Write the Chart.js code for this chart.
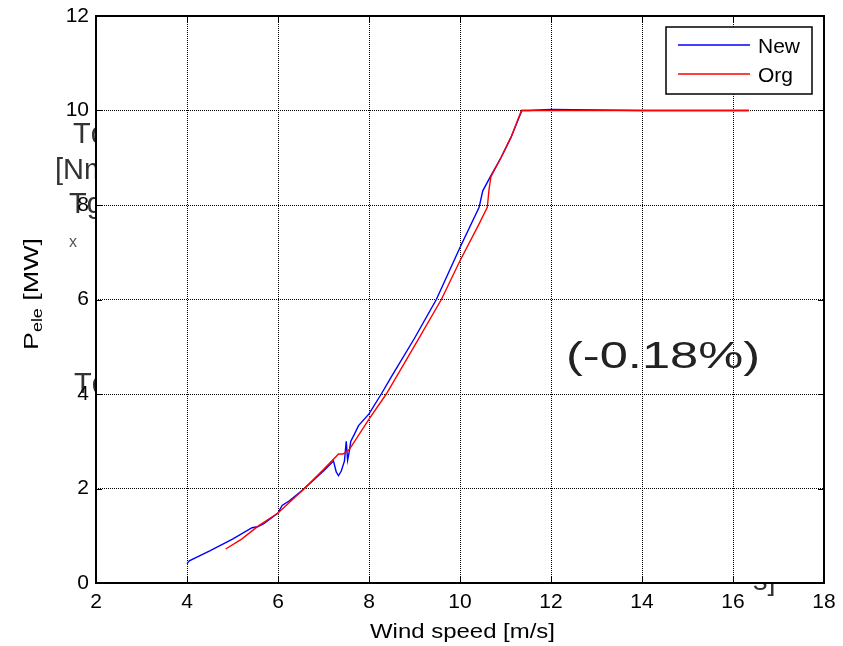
<!DOCTYPE html>
<html><head><meta charset="utf-8">
<script src="https://cdn.jsdelivr.net/npm/chart.js@4.4.0/dist/chart.umd.min.js"></script>
<style>html,body{margin:0;padding:0;background:#fff;overflow:hidden}</style>
</head><body>
<canvas id="c" width="843" height="646"></canvas>
<script>
// ---- data ----
const newSpeed = [4.0, 4.05, 4.5, 5.0, 5.43, 5.55, 5.68, 6.0, 6.09, 6.25, 6.52, 7.0, 7.22, 7.28, 7.33, 7.39, 7.46, 7.5, 7.53, 7.56, 7.6, 7.68, 7.77, 8.0, 8.27, 8.5, 9.0, 9.48, 10.0, 10.42, 10.5, 10.68, 10.9, 11.12, 11.36, 11.5, 12.0, 14.0, 16.35];
const newPower = [0.41, 0.47, 0.68, 0.93, 1.17, 1.19, 1.25, 1.48, 1.64, 1.74, 1.95, 2.37, 2.58, 2.35, 2.27, 2.37, 2.58, 3.0, 2.6, 2.75, 3.0, 3.15, 3.33, 3.58, 4.0, 4.38, 5.18, 6.0, 7.1, 7.95, 8.3, 8.62, 9.0, 9.43, 10.0, 10.0, 10.02, 10.0, 10.0];
const orgSpeed = [4.85, 5.2, 5.57, 6.0, 6.58, 7.0, 7.33, 7.43, 7.57, 8.0, 8.38, 9.0, 9.59, 10.0, 10.42, 10.6, 10.64, 10.68, 10.9, 11.12, 11.35, 12.0, 14.0, 16.35];
const orgPower = [0.72, 0.93, 1.21, 1.48, 2.0, 2.4, 2.73, 2.73, 2.83, 3.47, 4.0, 5.02, 6.0, 6.82, 7.6, 7.95, 8.35, 8.6, 9.0, 9.43, 10.0, 10.0, 10.0, 10.0];
const seriesNames = ['New', 'Org'];
const seriesColors = ['#0000ff', '#ff0000'];
const xTickValues = [2, 4, 6, 8, 10, 12, 14, 16, 18];
const yTickValues = [0, 2, 4, 6, 8, 10, 12];
const xTitle = 'Wind speed [m/s]';
const yTitleParts = ['P', 'ele', ' [MW]'];
const noteText = '(-0.18%)';
const bgTexts = ['Tq', '[Nm', 'Tg', 'x', 'Tq', 's]'];

// ---- drawing ----
const FONT = "'Liberation Sans', Arial, Helvetica, sans-serif";
function toPts(xs, ys) { return xs.map((x, i) => ({x: x, y: ys[i]})); }

function drawFit(ctx, text, x, y, size, width) {
  ctx.font = size + 'px ' + FONT;
  const w = ctx.measureText(text).width;
  const sx = width ? width / w : 1;
  ctx.save();
  ctx.translate(x, y);
  ctx.scale(sx, 1);
  ctx.textAlign = 'left';
  ctx.textBaseline = 'alphabetic';
  ctx.fillText(text, 0, 0);
  ctx.restore();
}

const deco = {
  id: 'deco',
  beforeDraw(chart) {
    const ctx = chart.ctx, a = chart.chartArea;
    ctx.save();
    ctx.fillStyle = '#fff';
    ctx.fillRect(0, 0, chart.width, chart.height);
    ctx.fillStyle = '#333';
    // background fragments (partly hidden by the plot area)
    drawFit(ctx, bgTexts[0], 73, 143, 29);
    drawFit(ctx, bgTexts[1], 55, 179, 29);
    drawFit(ctx, bgTexts[2], 69, 213, 29);
    ctx.fillStyle = '#555';
    drawFit(ctx, bgTexts[3], 69, 247, 16);
    ctx.fillStyle = '#333';
    drawFit(ctx, bgTexts[4], 74, 393, 29);
    drawFit(ctx, bgTexts[5], 753, 590, 29);
    ctx.fillStyle = '#fff';
    ctx.fillRect(a.left, a.top, a.right - a.left, a.bottom - a.top);
    ctx.restore();
  },
  afterDraw(chart) {
    const ctx = chart.ctx, a = chart.chartArea;
    const xs = chart.scales.x, ys = chart.scales.y;
    ctx.save();
    // box
    ctx.strokeStyle = '#000';
    ctx.lineWidth = 2;
    ctx.strokeRect(a.left, a.top, a.right - a.left, a.bottom - a.top);
    // inward ticks
    ctx.lineWidth = 1;
    ctx.beginPath();
    xTickValues.forEach(v => {
      const px = Math.round(xs.getPixelForValue(v)) + 0.5;
      ctx.moveTo(px, a.bottom); ctx.lineTo(px, a.bottom - 6);
      ctx.moveTo(px, a.top); ctx.lineTo(px, a.top + 6);
    });
    yTickValues.forEach(v => {
      const py = Math.round(ys.getPixelForValue(v)) + 0.5;
      ctx.moveTo(a.left, py); ctx.lineTo(a.left + 6, py);
      ctx.moveTo(a.right, py); ctx.lineTo(a.right - 6, py);
    });
    ctx.stroke();

    // legend
    const lx = 666, ly = 27, lw = 146, lh = 67;
    ctx.fillStyle = '#fff';
    ctx.fillRect(lx, ly, lw, lh);
    ctx.lineWidth = 1.5;
    ctx.strokeStyle = '#000';
    ctx.strokeRect(lx, ly, lw, lh);
    const rows = [45, 74];
    chart.data.datasets.forEach((ds, i) => {
      ctx.strokeStyle = ds.borderColor;
      ctx.lineWidth = 1.3;
      ctx.beginPath();
      ctx.moveTo(678, rows[i]); ctx.lineTo(750, rows[i]);
      ctx.stroke();
      ctx.fillStyle = '#000';
      drawFit(ctx, ds.label, 758, rows[i] + 8, 21);
    });

    // axis titles
    ctx.fillStyle = '#000';
    drawFit(ctx, xTitle, 370, 638, 21, 185);

    // y title with subscript
    ctx.save();
    ctx.translate(38, 350);
    ctx.rotate(-Math.PI / 2);
    ctx.font = '21px ' + FONT;
    const w0 = ctx.measureText(yTitleParts[0]).width;
    ctx.font = '14px ' + FONT;
    const w1 = ctx.measureText(yTitleParts[1]).width;
    ctx.font = '21px ' + FONT;
    const w2 = ctx.measureText(yTitleParts[2]).width;
    const sx = 112 / (w0 + w1 + w2);
    ctx.scale(sx, 1);
    ctx.textBaseline = 'alphabetic';
    ctx.font = '21px ' + FONT;
    ctx.fillText(yTitleParts[0], 0, 0);
    ctx.font = '14px ' + FONT;
    ctx.fillText(yTitleParts[1], w0, 4);
    ctx.font = '21px ' + FONT;
    ctx.fillText(yTitleParts[2], w0 + w1, 0);
    ctx.restore();

    // annotation
    ctx.fillStyle = '#222';
    drawFit(ctx, noteText, 566, 368, 36, 194);
    ctx.restore();
  }
};

new Chart(document.getElementById('c'), {
  type: 'scatter',
  data: {
    datasets: [
      { label: seriesNames[0], data: toPts(newSpeed, newPower), order: 1, showLine: true, borderColor: seriesColors[0], backgroundColor: seriesColors[0], borderWidth: 1.4, pointRadius: 0, tension: 0 },
      { label: seriesNames[1], data: toPts(orgSpeed, orgPower), order: 0, showLine: true, borderColor: seriesColors[1], backgroundColor: seriesColors[1], borderWidth: 1.4, pointRadius: 0, tension: 0 }
    ]
  },
  options: {
    responsive: false,
    animation: false,
    devicePixelRatio: 1,
    layout: { padding: { left: 0, top: 16, right: 19, bottom: 0 } },
    plugins: { legend: { display: false }, tooltip: { enabled: false } },
    scales: {
      x: {
        type: 'linear', min: 2, max: 18,
        afterFit: s => { s.height = 63; s.paddingLeft = 0; s.paddingRight = 0; },
        afterBuildTicks: s => { s.ticks = xTickValues.map(v => ({value: v})); },
        ticks: { color: '#000', font: { family: FONT, size: 21 }, padding: 7, maxRotation: 0 },
        grid: { color: '#000', lineWidth: 1, drawTicks: false },
        border: { display: false, dash: [1, 1] }
      },
      y: {
        type: 'linear', min: 0, max: 12,
        afterFit: s => { s.width = 96; s.paddingTop = 0; s.paddingBottom = 0; },
        afterBuildTicks: s => { s.ticks = yTickValues.map(v => ({value: v})); },
        ticks: { color: '#000', font: { family: FONT, size: 21 }, padding: 7 },
        grid: { color: '#000', lineWidth: 1, drawTicks: false },
        border: { display: false, dash: [1, 1] }
      }
    }
  },
  plugins: [deco]
});
</script>
</body></html>
